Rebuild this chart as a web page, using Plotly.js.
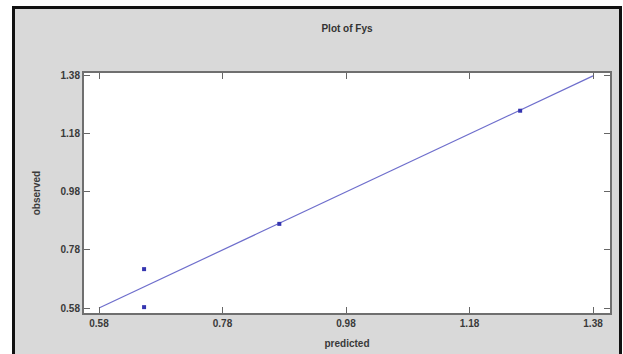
<!DOCTYPE html>
<html>
<head>
<meta charset="utf-8">
<script src="https://cdn.plot.ly/plotly-3.0.1.min.js"></script>
<style>
  html, body { margin: 0; padding: 0; background: #ffffff; }
  #frame { position: absolute; left: 12px; top: 6px; width: 604px; height: 360px;
           background: #d9d9d9; border: 3px solid #111; border-bottom: none; }
  #chart { position: absolute; left: 0; top: 0; width: 623px; height: 354px; }
</style>
</head>
<body>
<div id="frame"></div>
<div id="chart"></div>
<script>
// Data
const predicted = [0.653, 0.653, 0.872, 1.262];
const observed  = [0.714, 0.583, 0.870, 1.260];
const lineX = [0.58, 1.38];
const lineY = [0.58, 1.38];
const tickVals = [0.58, 0.78, 0.98, 1.18, 1.38];
const tickText = ['0.58', '0.78', '0.98', '1.18', '1.38'];

const traces = [
  { x: lineX, y: lineY, type: 'scatter', mode: 'lines',
    line: { color: '#6e6ecc', width: 1.2 }, hoverinfo: 'skip' },
  { x: predicted, y: observed, type: 'scatter', mode: 'markers',
    marker: { color: '#3535b0', size: 4, symbol: 'square' } }
];

const axisCommon = {
  tickmode: 'array', tickvals: tickVals, ticktext: tickText,
  ticks: 'inside', ticklen: 6, tickwidth: 1, tickcolor: '#666',
  showline: true, linecolor: '#6f6f6f', linewidth: 2, mirror: 'ticks',
  showgrid: false, zeroline: false,
  tickfont: { family: 'Liberation Sans, Arial, sans-serif', size: 10, color: '#3a3a3a', weight: 'bold' }
};

const layout = {
  width: 623, height: 354,
  margin: { l: 84, r: 13, t: 73, b: 41 },
  paper_bgcolor: 'rgba(0,0,0,0)',
  plot_bgcolor: '#ffffff',
  showlegend: false,
  title: { text: 'Plot of Fys', x: 0.557, xanchor: 'center', y: 0.92, yanchor: 'middle',
           font: { family: 'Liberation Sans, Arial, sans-serif', size: 10, color: '#333', weight: 'bold' } },
  xaxis: Object.assign({}, axisCommon, {
    range: [0.5557, 1.4075],
    title: { text: 'predicted', standoff: 12,
             font: { family: 'Liberation Sans, Arial, sans-serif', size: 10, color: '#3a3a3a', weight: 'bold' } }
  }),
  yaxis: Object.assign({}, axisCommon, {
    range: [0.5628, 1.390],
    title: { text: 'observed', standoff: 18,
             font: { family: 'Liberation Sans, Arial, sans-serif', size: 10, color: '#3a3a3a', weight: 'bold' } }
  })
};

Plotly.newPlot('chart', traces, layout, { displayModeBar: false, staticPlot: true });
</script>
</body>
</html>
